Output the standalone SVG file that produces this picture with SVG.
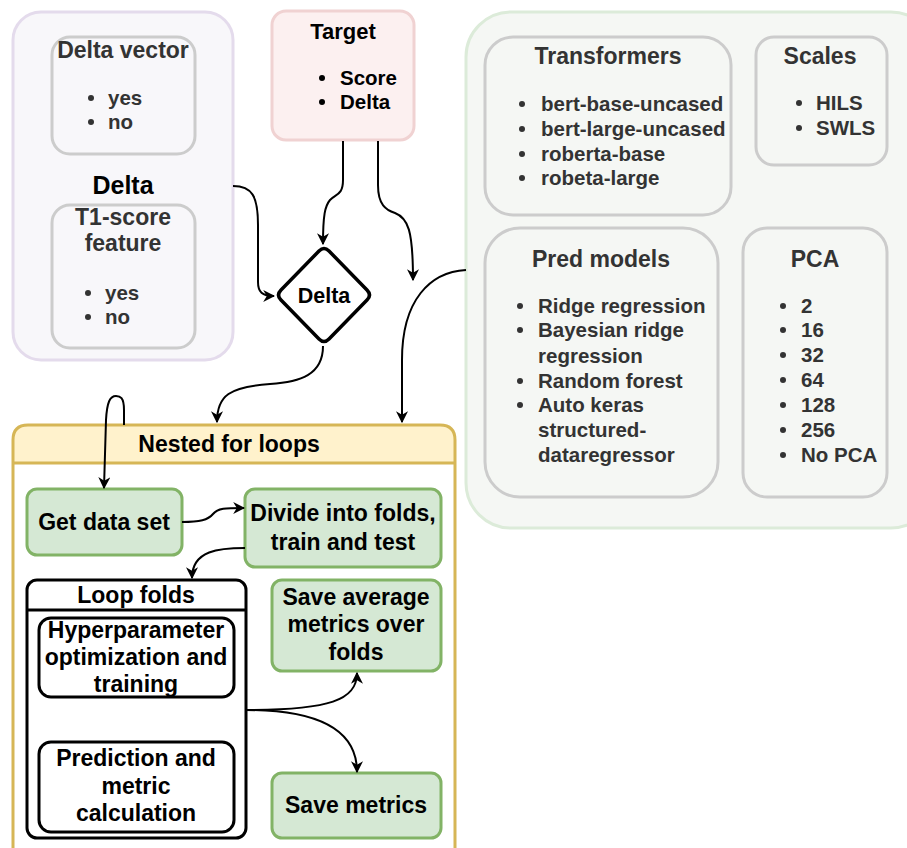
<svg xmlns="http://www.w3.org/2000/svg" width="907" height="848" viewBox="0 0 907 848">
<defs>
<style>
text{font-family:"Liberation Sans",Arial,sans-serif;font-weight:bold}
.t{font-size:23px;text-anchor:middle}
.b{font-size:20.5px}
.g{fill:#333}
.dot{fill:#333}
.k{fill:#000}
.sub{fill:none;stroke:#cccccc;stroke-width:3}
.grn{fill:#d5e8d4;stroke:#82b366;stroke-width:3}
.blk{fill:#fff;stroke:#000;stroke-width:3}
.c{fill:none;stroke:#000;stroke-width:2}
</style>
<marker id="ab" viewBox="0 0 10 10" refX="9" refY="5" markerWidth="12" markerHeight="12" markerUnits="userSpaceOnUse" orient="auto">
<path d="M0,0 L10,5 L0,10 L3,5 z" fill="#000"/>
</marker>
</defs>
<rect width="907" height="848" fill="#fff"/>

<g id="delta-group">
<rect x="13" y="12" width="220" height="348" rx="28" fill="#f8f7fa" stroke="#e4dbec" stroke-width="3"/>
<text class="t k" x="123" y="194" style="font-size:25px">Delta</text>
</g>
<g id="delta-vector">
<rect class="sub" x="52" y="37" width="143" height="117" rx="18"/>
<text class="t g" x="123" y="58">Delta vector</text>
<circle class="dot" cx="91" cy="98" r="3"/><text class="b g" x="108" y="105">yes</text>
<circle class="dot" cx="91" cy="122" r="3"/><text class="b g" x="108" y="129">no</text>
</g>
<g id="t1-score">
<rect class="sub" x="52" y="205" width="143" height="143" rx="18"/>
<text class="t g" x="123" y="225">T1-score</text>
<text class="t g" x="123" y="251">feature</text>
<circle class="dot" cx="88" cy="293" r="3"/><text class="b g" x="105" y="300">yes</text>
<circle class="dot" cx="88" cy="317" r="3"/><text class="b g" x="105" y="324">no</text>
</g>

<g id="target">
<rect x="272" y="11" width="142" height="129" rx="14" fill="#fcf0f0" stroke="#f0d2d2" stroke-width="3"/>
<text class="t k" x="343" y="39" style="font-size:22px">Target</text>
<circle class="k" cx="322" cy="78" r="3"/><text class="b k" x="340" y="85">Score</text>
<circle class="k" cx="322" cy="102" r="3"/><text class="b k" x="340" y="109">Delta</text>
</g>

<g id="delta-diamond">
<path d="M319,251 Q324,246 329,251 L367,290 Q372,295 367,300 L329,339 Q324,344 319,339 L281,300 Q276,295 281,290 Z" fill="#fff" stroke="#000" stroke-width="3.5"/>
<text class="k" x="324" y="303" style="font-size:21.5px;text-anchor:middle">Delta</text>
</g>

<g id="options-group">
<rect x="466" y="12" width="470" height="516" rx="45" fill="#f5f7f4" stroke="#dcebd9" stroke-width="3"/>
</g>
<g id="transformers">
<rect class="sub" x="485" y="37" width="246" height="178" rx="28"/>
<text class="t g" x="608" y="64">Transformers</text>
<circle class="dot" cx="522" cy="104" r="3"/><text class="b g" x="541" y="111">bert-base-uncased</text>
<circle class="dot" cx="522" cy="129" r="3"/><text class="b g" x="541" y="136">bert-large-uncased</text>
<circle class="dot" cx="522" cy="154" r="3"/><text class="b g" x="541" y="161">roberta-base</text>
<circle class="dot" cx="522" cy="178" r="3"/><text class="b g" x="541" y="185">robeta-large</text>
</g>
<g id="scales">
<rect class="sub" x="756" y="37" width="131" height="128" rx="18"/>
<text class="t g" x="820" y="64">Scales</text>
<circle class="dot" cx="799" cy="103" r="3"/><text class="b g" x="816" y="110">HILS</text>
<circle class="dot" cx="799" cy="128" r="3"/><text class="b g" x="816" y="135">SWLS</text>
</g>
<g id="pred-models">
<rect class="sub" x="485" y="228" width="233" height="269" rx="35"/>
<text class="t g" x="601" y="267">Pred models</text>
<circle class="dot" cx="520" cy="306" r="3"/><text class="b g" x="538" y="313">Ridge regression</text>
<circle class="dot" cx="520" cy="330" r="3"/><text class="b g" x="538" y="337">Bayesian ridge</text>
<text class="b g" x="538" y="363">regression</text>
<circle class="dot" cx="520" cy="381" r="3"/><text class="b g" x="538" y="388">Random forest</text>
<circle class="dot" cx="520" cy="405" r="3"/><text class="b g" x="538" y="412">Auto keras</text>
<text class="b g" x="538" y="437">structured-</text>
<text class="b g" x="538" y="462">dataregressor</text>
</g>
<g id="pca">
<rect class="sub" x="743" y="228" width="144" height="269" rx="24"/>
<text class="t g" x="815" y="267">PCA</text>
<circle class="dot" cx="783" cy="306" r="3"/><text class="b g" x="801" y="313">2</text>
<circle class="dot" cx="783" cy="330" r="3"/><text class="b g" x="801" y="337">16</text>
<circle class="dot" cx="783" cy="355" r="3"/><text class="b g" x="801" y="362">32</text>
<circle class="dot" cx="783" cy="380" r="3"/><text class="b g" x="801" y="387">64</text>
<circle class="dot" cx="783" cy="405" r="3"/><text class="b g" x="801" y="412">128</text>
<circle class="dot" cx="783" cy="430" r="3"/><text class="b g" x="801" y="437">256</text>
<circle class="dot" cx="783" cy="455" r="3"/><text class="b g" x="801" y="462">No PCA</text>
</g>

<g id="nested-loops">
<path d="M13,463 L13,440 Q13,425 28,425 L440,425 Q455,425 455,440 L455,463 Z" fill="#fff2cc"/>
<path d="M13,463 L455,463 L455,848 L13,848 Z" fill="#fff"/>
<path d="M13,850 L13,440 Q13,425 28,425 L440,425 Q455,425 455,440 L455,850 M13,463 L455,463" fill="none" stroke="#d6b656" stroke-width="3"/>
<text class="t k" x="229" y="452">Nested for loops</text>
</g>
<g id="get-data-set">
<rect class="grn" x="27" y="489" width="155" height="66" rx="10"/>
<text class="t k" x="104" y="530">Get data set</text>
</g>
<g id="divide">
<rect class="grn" x="245" y="489" width="196" height="78" rx="10"/>
<text class="t k" x="343" y="521">Divide into folds,</text>
<text class="t k" x="343" y="550">train and test</text>
</g>
<g id="loop-folds">
<rect class="blk" x="27" y="580" width="219" height="258" rx="10"/>
<line x1="27" y1="610" x2="246" y2="610" stroke="#000" stroke-width="3"/>
<text class="t k" x="136" y="603">Loop folds</text>
</g>
<g id="hyperparameter">
<rect class="blk" x="39" y="618" width="195" height="79" rx="12"/>
<text class="t k" x="136" y="638">Hyperparameter</text>
<text class="t k" x="136" y="665">optimization and</text>
<text class="t k" x="136" y="692">training</text>
</g>
<g id="prediction">
<rect class="blk" x="39" y="742" width="195" height="90" rx="12"/>
<text class="t k" x="136" y="766">Prediction and</text>
<text class="t k" x="136" y="794">metric</text>
<text class="t k" x="136" y="821">calculation</text>
</g>
<g id="save-average">
<rect class="grn" x="272" y="580" width="169" height="91" rx="10"/>
<text class="t k" x="356" y="605">Save average</text>
<text class="t k" x="356" y="632">metrics over</text>
<text class="t k" x="356" y="660">folds</text>
</g>
<g id="save-metrics">
<rect class="grn" x="272" y="773" width="169" height="65" rx="10"/>
<text class="t k" x="356" y="813">Save metrics</text>
</g>

<g id="connectors">
<path class="c" marker-end="url(#ab)" d="M233,186 C252,186 258,196 258,225 L258,282 C258,292 262,296 274,296"/>
<path class="c" marker-end="url(#ab)" d="M343,141 L343,180 C343,195 336,194 330,200 C325,206 323,215 323,244"/>
<path class="c" marker-end="url(#ab)" d="M378,141 L378,185 C378,205 386,210 395,213 C408,218 413,230 413,280"/>
<path class="c" marker-end="url(#ab)" d="M466,270 C430,272 402,300 402,360 L402,422"/>
<path class="c" marker-end="url(#ab)" d="M323,346 C323,375 300,382 270,384 C230,387 217,395 217,422"/>
<path class="c" marker-end="url(#ab)" d="M124,425 L124,410 C124,397 120,396 116,396 C110,396 107,402 106,420 L104,488"/>
<path class="c" marker-end="url(#ab)" d="M182,522 C200,522 208,520 213,514 C218,508 225,508 244,508"/>
<path class="c" marker-end="url(#ab)" d="M245,548 C220,548 192,550 192,578"/>
<path class="c" marker-end="url(#ab)" d="M246,710 C330,710 357,700 357,673"/>
<path class="c" marker-end="url(#ab)" d="M246,710 C320,710 357,730 357,772"/>
</g>
</svg>
